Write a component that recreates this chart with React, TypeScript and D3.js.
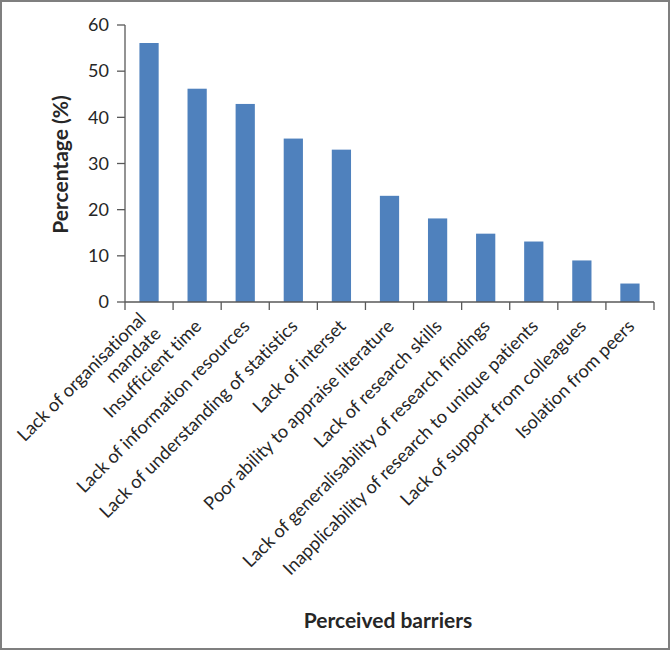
import React from "react";
import * as d3 from "d3";

const categories: string[][] = [
  ["Lack of organisational", "mandate"],
  ["Insufficient time"],
  ["Lack of information resources"],
  ["Lack of understanding of statistics"],
  ["Lack of interset"],
  ["Poor ability to appraise literature"],
  ["Lack of research skills"],
  ["Lack of generalisability of research findings"],
  ["Inapplicability of research to unique patients"],
  ["Lack of support from colleagues"],
  ["Isolation from peers"],
];
const values: number[] = [56.1, 46.2, 42.9, 35.4, 33.0, 23.0, 18.1, 14.8, 13.1, 9.0, 4.0];
const yTicks: number[] = [0, 10, 20, 30, 40, 50, 60];
const yTitle = "Percentage (%)";
const xTitle = "Perceived barriers";

const W = 670;
const H = 650;
const FONT = "Lato, 'Open Sans', sans-serif";

export default function App() {
  const left = 125;
  const right = 654;
  const top = 25;
  const bottom = 302;
  const idx = categories.map((_, i) => String(i));
  const x = d3.scaleBand<string>().domain(idx).range([left, right]).paddingInner(0.6).paddingOuter(0.3);
  const xb = d3.scaleBand<string>().domain(idx).range([left, right]);
  const y = d3.scaleLinear().domain([0, 60]).range([bottom, top]);
  const axisColor = "#595959";
  const textColor = "#262626";
  return (
    <svg
      width={W}
      height={H}
      style={{ position: "absolute", left: 0, top: 0, fontVariantLigatures: "none" }}
      fontFamily={FONT}
    >
      <rect x={0} y={0} width={W} height={H} fill="#fff" />
      <rect x={1} y={1} width={W - 2} height={H - 2} fill="none" stroke="#7f7f7f" strokeWidth={2} />
      {values.map((v, i) => (
        <rect key={i} x={x(String(i))} y={y(v)} width={x.bandwidth()} height={y(0) - y(v)} fill="#4F81BD" />
      ))}
      <line x1={left} x2={left} y1={y(60)} y2={y(0)} stroke={axisColor} strokeWidth={1.3} />
      {yTicks.map((t) => (
        <g key={t}>
          <line x1={left - 8} x2={left} y1={y(t)} y2={y(t)} stroke={axisColor} strokeWidth={1.3} />
          <text x={left - 16} y={y(t)} dy="0.35em" textAnchor="end" fontSize={18} fill={textColor}>
            {t}
          </text>
        </g>
      ))}
      <line x1={left} x2={right} y1={bottom} y2={bottom} stroke={axisColor} strokeWidth={1.3} />
      {idx.concat([String(idx.length)]).map((d, i) => {
        const px = i < idx.length ? (xb(d) as number) : right;
        return <line key={i} x1={px} x2={px} y1={bottom} y2={bottom + 8} stroke={axisColor} strokeWidth={1.3} />;
      })}
      {categories.map((lines, i) => {
        const cx = (xb(String(i)) as number) + xb.bandwidth() / 2;
        const n = lines.length;
        return (
          <text
            key={i}
            transform={`translate(${cx + 1},${323}) rotate(-45)`}
            textAnchor="end"
            fontSize={18.2}
            fill={textColor}
          >
            {lines.map((l, j) => (
              <tspan key={j} x={0} y={0} dy={`${0.35 + (j - (n - 1) / 2) * 1.15}em`}>
                {l}
              </tspan>
            ))}
          </text>
        );
      })}
      <text
        transform={`translate(68,164.5) rotate(-90)`}
        textAnchor="middle"
        fontSize={21}
        fontWeight="bold"
        fill={textColor}
      >
        {yTitle}
      </text>
      <text x={388} y={628} textAnchor="middle" fontSize={21} fontWeight="bold" fill={textColor}>
        {xTitle}
      </text>
    </svg>
  );
}
